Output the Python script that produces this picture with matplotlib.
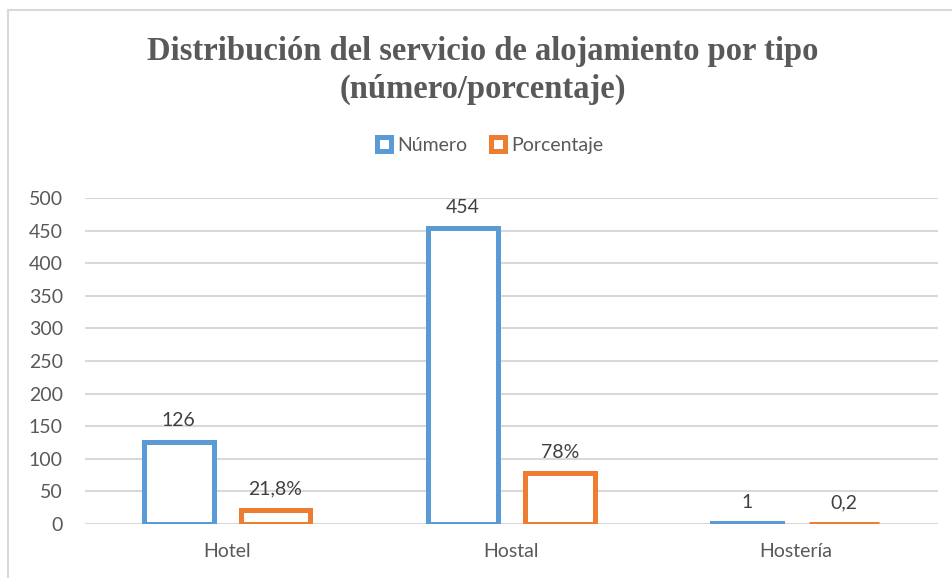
import numpy as np
import matplotlib.pyplot as plt
from matplotlib.patches import Patch
from matplotlib.lines import Line2D

# Data
categorias = ["Hotel", "Hostal", "Hostería"]
numero = [126, 454, 1]
porcentaje = [21.8, 78, 0.2]
etiq_numero = ["126", "454", "1"]
etiq_porcentaje = ["21,8%", "78%", "0,2"]
yticks = list(range(0, 501, 50))

azul = "#5b9bd5"
naranja = "#ed7d31"
gris_txt = "#595959"
gris_lin = "#d9d9d9"

plt.rcParams['font.family'] = ['Lato', 'DejaVu Sans']

fig = plt.figure(figsize=(9.53, 5.78), dpi=100)
ax = fig.add_axes([0.0892, 0.0934, 0.8948, 0.564])

x = np.arange(len(categorias))
ancho = 0.245
off = 0.17

b1 = ax.bar(x - off, numero, ancho, facecolor="white", edgecolor=azul, linewidth=3.6, zorder=3)
b2 = ax.bar(x + off, porcentaje, ancho, facecolor="white", edgecolor=naranja, linewidth=3.6, zorder=3)

for rect, txt in zip(b1, etiq_numero):
    ax.annotate(txt, (rect.get_x() + rect.get_width() / 2, rect.get_height()),
                xytext=(0, 9), textcoords="offset points", ha="center", va="bottom",
                fontsize=14, color="#404040")
for rect, txt in zip(b2, etiq_porcentaje):
    ax.annotate(txt, (rect.get_x() + rect.get_width() / 2, rect.get_height()),
                xytext=(0, 9), textcoords="offset points", ha="center", va="bottom",
                fontsize=14, color="#404040")

ax.set_xlim(-0.5, 2.5)
ax.set_ylim(0, 500)
ax.set_yticks(yticks)
ax.set_xticks(x)
ax.set_xticklabels(categorias)
ax.tick_params(axis="both", length=0, labelsize=14, labelcolor=gris_txt)
ax.tick_params(axis="y", pad=16)
ax.tick_params(axis="x", pad=14)
ax.grid(axis="y", color=gris_lin, linewidth=1.5, zorder=0)
ax.set_axisbelow(True)
for s in ax.spines.values():
    s.set_visible(False)

fig.text(0.507, 0.878, "Distribución del servicio de alojamiento por tipo\n(número/porcentaje)",
         ha="center", va="center", fontsize=23.5, fontweight="bold",
         family="Liberation Serif", color=gris_txt, linespacing=1.3)

handles = [Patch(facecolor="white", edgecolor=azul, linewidth=3.6, label="Número"),
           Patch(facecolor="white", edgecolor=naranja, linewidth=3.6, label="Porcentaje")]
fig.legend(handles=handles, loc="center", bbox_to_anchor=(0.514, 0.748), ncol=2,
           frameon=False, fontsize=14, labelcolor=gris_txt, handlelength=0.75,
           handleheight=0.75, handletextpad=0.3, columnspacing=1.2)

# chart frame
fig.add_artist(Line2D([8 / 953, 1], [1 - 10 / 578, 1 - 10 / 578], color=gris_lin, linewidth=1.5))
fig.add_artist(Line2D([8 / 953, 8 / 953], [0, 1 - 10 / 578], color=gris_lin, linewidth=1.5))

fig.savefig("out.png", dpi=100)
